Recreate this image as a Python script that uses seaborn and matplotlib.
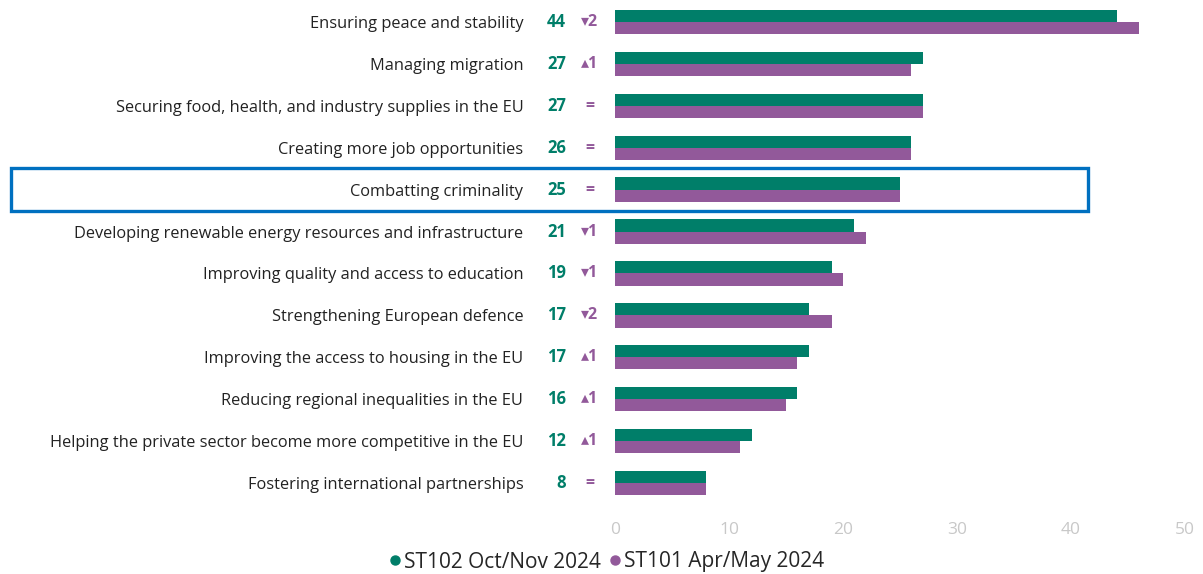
import matplotlib
matplotlib.use("Agg")
from matplotlib import pyplot as plt
from matplotlib.patches import Rectangle
import matplotlib.lines as mlines
import matplotlib.transforms as mtransforms
import pandas as pd
import seaborn as sns

CATEGORIES = [
    "Ensuring peace and stability",
    "Managing migration",
    "Securing food, health, and industry supplies in the EU",
    "Creating more job opportunities",
    "Combatting criminality",
    "Developing renewable energy resources and infrastructure",
    "Improving quality and access to education",
    "Strengthening European defence",
    "Improving the access to housing in the EU",
    "Reducing regional inequalities in the EU",
    "Helping the private sector become more competitive in the EU",
    "Fostering international partnerships",
]
ST102 = [44, 27, 27, 26, 25, 21, 19, 17, 17, 16, 12, 8]
ST101 = [46, 26, 27, 26, 25, 22, 20, 19, 16, 15, 11, 8]
CHANGE_LABELS = ["▾2", "▴1", "=", "=", "=", "▾1", "▾1", "▾2", "▴1", "▴1", "▴1", "="]
SERIES = ["ST102 Oct/Nov 2024", "ST101 Apr/May 2024"]
XTICKS = [0, 10, 20, 30, 40, 50]
HIGHLIGHT = "Combatting criminality"

GREEN = "#007e69"
PURPLE = "#92599a"
BLUE = "#0070c0"

sns.set_theme(style="white")
plt.rcParams['font.family'] = ['Open Sans', 'DejaVu Sans']

df = pd.DataFrame({
    "Category": CATEGORIES * 2,
    "Value": ST102 + ST101,
    "Wave": [SERIES[0]] * len(CATEGORIES) + [SERIES[1]] * len(CATEGORIES),
})

fig = plt.figure(figsize=(12.03, 5.74), dpi=100)
ax = fig.add_axes([615 / 1203, 1 - 504 / 574, 570 / 1203, 503 / 574])

sns.barplot(data=df, x="Value", y="Category", hue="Wave", order=CATEGORIES,
            hue_order=SERIES, palette=[GREEN, PURPLE], orient="h",
            width=0.58, saturation=1, legend=False, linewidth=0, ax=ax)

ax.set_xlim(0, 50)
ax.set_xticks(XTICKS)
ax.set_xlabel("")
ax.set_ylabel("")
sns.despine(ax=ax, left=True, bottom=True)
ax.tick_params(axis="x", length=0, labelsize=12.5, labelcolor="#c8c8c8", pad=13)
ax.tick_params(axis="y", length=0, labelsize=11.8, labelcolor="#222222", pad=66)

# value and change annotations to the left of the bars
trans = ax.get_yaxis_transform()
for i, (val, chg) in enumerate(zip(ST102, CHANGE_LABELS)):
    ax.text(-0.086, i, str(val), transform=trans, ha="right", va="center",
            color=GREEN, fontsize=12, fontweight="bold")
    ax.text(-0.044, i, chg, transform=trans, ha="center", va="center",
            color=PURPLE, fontsize=11.5, fontweight="bold")

# highlight box around one category
row = CATEGORIES.index(HIGHLIGHT)
box_trans = mtransforms.blended_transform_factory(ax.transAxes, ax.transData)
ax.add_patch(Rectangle((-1.06, row - 0.52), 1.89, 1.04, transform=box_trans,
                       fill=False, edgecolor=BLUE, linewidth=2.4, clip_on=False))

handles = [mlines.Line2D([], [], color=c, marker="o", linestyle="", markersize=6.5, label=s)
           for c, s in zip([GREEN, PURPLE], SERIES)]
fig.legend(handles=handles, loc="center", bbox_to_anchor=(605 / 1203, 1 - 562 / 574),
           ncol=2, frameon=False, fontsize=15, handletextpad=0.0,
           columnspacing=0.2, handlelength=0.9)

plt.savefig("out.png", dpi=100)
